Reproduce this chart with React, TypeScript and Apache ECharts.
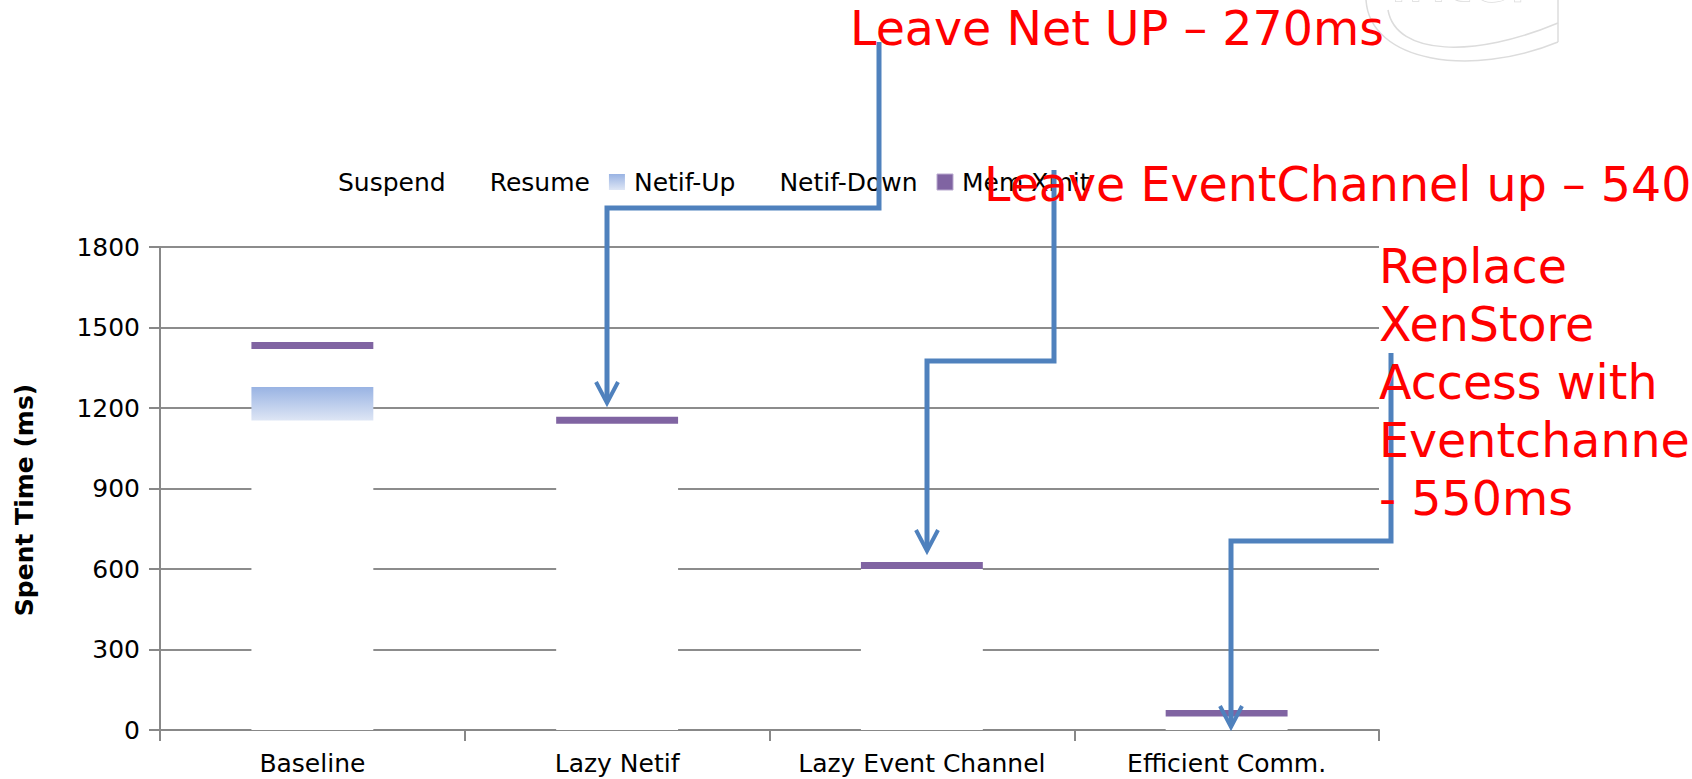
import React, { useEffect, useRef } from 'react';
import * as echarts from 'echarts';

const categories = ['Baseline', 'Lazy Netif', 'Lazy Event Channel', 'Efficient Comm.'];
const suspend = [480, 470, 290, 20];
const resume = [673, 530, 170, 20];
const netifUp = [125, 0, 0, 0];
const netifDown = [142, 141, 140, 10];
const memXmit = [26, 26, 26, 25];

const yMin = 0;
const yMax = 1800;
const yInterval = 300;
const yAxisTitle = 'Spent Time (ms)';

const note1 = 'Leave Net UP – 270ms';
const note2 = 'Leave EventChannel up – 540ms';
const note3Lines = ['Replace', 'XenStore', 'Access with', 'Eventchannel', '- 550ms'];

const FONT = 'DejaVu Sans';
const BLUE = '#4f81bd';
const RED = '#ff0000';

export default function App() {
  const ref = useRef<HTMLDivElement>(null);

  useEffect(() => {
    const chart = echarts.init(ref.current!, null, { renderer: 'svg' });
    const grad = new echarts.graphic.LinearGradient(0, 0, 0, 1, [
      { offset: 0, color: '#99b3e3' },
      { offset: 1, color: '#dee6f5' },
    ]);
    const axisGray = '#888888';

    const mkBar = (name: string, data: number[], color: any) => ({
      name,
      type: 'bar',
      stack: 'total',
      data,
      barWidth: '40%',
      silent: true,
      itemStyle: { color },
      emphasis: { disabled: true },
    });

    const arrow = (pts: number[][], tip: number[]) => [
      {
        type: 'polyline',
        z: 50,
        shape: { points: pts },
        style: { stroke: BLUE, lineWidth: 5, fill: 'none' },
        silent: true,
      },
      {
        type: 'polyline',
        z: 50,
        shape: { points: [[tip[0] - 11, tip[1] - 21], tip, [tip[0] + 11, tip[1] - 21]] },
        style: { stroke: BLUE, lineWidth: 4, fill: 'none' },
        silent: true,
      },
    ];

    const redText = (text: string, x: number, y: number) => ({
      type: 'text',
      z: 60,
      x,
      y,
      silent: true,
      style: {
        text,
        fill: RED,
        fontSize: 47.5,
        fontFamily: FONT,
        align: 'left',
        verticalAlign: 'middle',
      },
    });

    const note3Baselines = [283, 341, 399, 457, 515];

    chart.setOption({
      animation: false,
      backgroundColor: '#ffffff',
      textStyle: { fontFamily: FONT },
      legend: {
        left: 308,
        top: 163,
        itemWidth: 16,
        itemHeight: 16,
        itemGap: 19,
        icon: 'rect',
        selectedMode: false,
        textStyle: {
          fontFamily: FONT,
          fontSize: 25,
          color: '#000',
          padding: [0, 0, 0, 4],
          lineHeight: 28,
        },
        data: [
          { name: 'Suspend' },
          { name: 'Resume' },
          { name: 'Netif-Up' },
          { name: 'Netif-Down' },
          { name: 'Mem Xmit', itemStyle: { borderColor: '#b9a9cf', borderWidth: 1 } },
        ],
      },
      grid: { left: 160, right: 313, top: 247, bottom: 49, containLabel: false },
      xAxis: {
        type: 'category',
        data: categories,
        axisLine: { show: true, lineStyle: { color: axisGray, width: 2 } },
        axisTick: { show: true, length: 11, lineStyle: { color: axisGray, width: 2 } },
        axisLabel: {
          interval: 0,
          fontSize: 25,
          fontFamily: FONT,
          color: '#000',
          margin: 21,
          lineHeight: 25,
        },
        splitLine: { show: false },
      },
      yAxis: {
        type: 'value',
        min: yMin,
        max: yMax,
        interval: yInterval,
        axisLine: { show: true, lineStyle: { color: axisGray, width: 2 } },
        axisTick: { show: true, length: 11, lineStyle: { color: axisGray, width: 2 } },
        axisLabel: {
          fontSize: 25,
          fontFamily: FONT,
          color: '#000',
          margin: 20,
          formatter: (v: number) => String(v),
        },
        splitLine: { show: true, lineStyle: { color: '#8c8c8c', width: 2 } },
      },
      series: [
        mkBar('Suspend', suspend, '#ffffff'),
        mkBar('Resume', resume, '#ffffff'),
        mkBar('Netif-Up', netifUp, grad),
        mkBar('Netif-Down', netifDown, '#ffffff'),
        mkBar('Mem Xmit', memXmit, '#8064a2'),
      ],
      graphic: [
        {
          type: 'text',
          x: 24,
          y: 500,
          rotation: Math.PI / 2,
          silent: true,
          style: {
            text: yAxisTitle,
            fill: '#000',
            fontSize: 25,
            fontWeight: 'bold',
            fontFamily: FONT,
            align: 'center',
            verticalAlign: 'middle',
          },
        },
        {
          type: 'text',
          x: 1390,
          y: 10,
          z: 1,
          silent: true,
          style: {
            text: 'intel',
            fill: '#ffffff',
            stroke: '#dcdcdc',
            lineWidth: 1.5,
            fontSize: 62,
            fontFamily: FONT,
            align: 'left',
            verticalAlign: 'bottom',
          },
        },
        {
          type: 'bezierCurve',
          z: 1,
          silent: true,
          shape: { x1: 1366, y1: 0, cpx1: 1370, cpy1: 62, cpx2: 1470, cpy2: 78, x2: 1558, y2: 42 },
          style: { stroke: '#dcdcdc', lineWidth: 1.5, fill: 'none' },
        },
        {
          type: 'bezierCurve',
          z: 1,
          silent: true,
          shape: { x1: 1388, y1: 10, cpx1: 1396, cpy1: 56, cpx2: 1475, cpy2: 58, x2: 1558, y2: 23 },
          style: { stroke: '#dcdcdc', lineWidth: 1.5, fill: 'none' },
        },
        {
          type: 'polyline',
          z: 1,
          silent: true,
          shape: { points: [[1558, 42], [1558, 0]] },
          style: { stroke: '#dcdcdc', lineWidth: 1.5, fill: 'none' },
        },
        ...arrow([[879, 42], [879, 208], [607, 208], [607, 400]], [607, 403]),
        ...arrow([[1054, 170], [1054, 361], [927, 361], [927, 548]], [927, 551]),
        ...arrow([[1391, 353], [1391, 541], [1231, 541], [1231, 724]], [1231, 727]),
        redText(note1, 850, 28),
        redText(note2, 984, 184),
        ...note3Lines.map((t, i) => redText(t, 1379, note3Baselines[i] - 17)),
      ],
    });

    return () => chart.dispose();
  }, []);

  return (
    <div
      ref={ref}
      style={{ position: 'fixed', left: 0, top: 0, width: 1692, height: 779, background: '#fff' }}
    />
  );
}
